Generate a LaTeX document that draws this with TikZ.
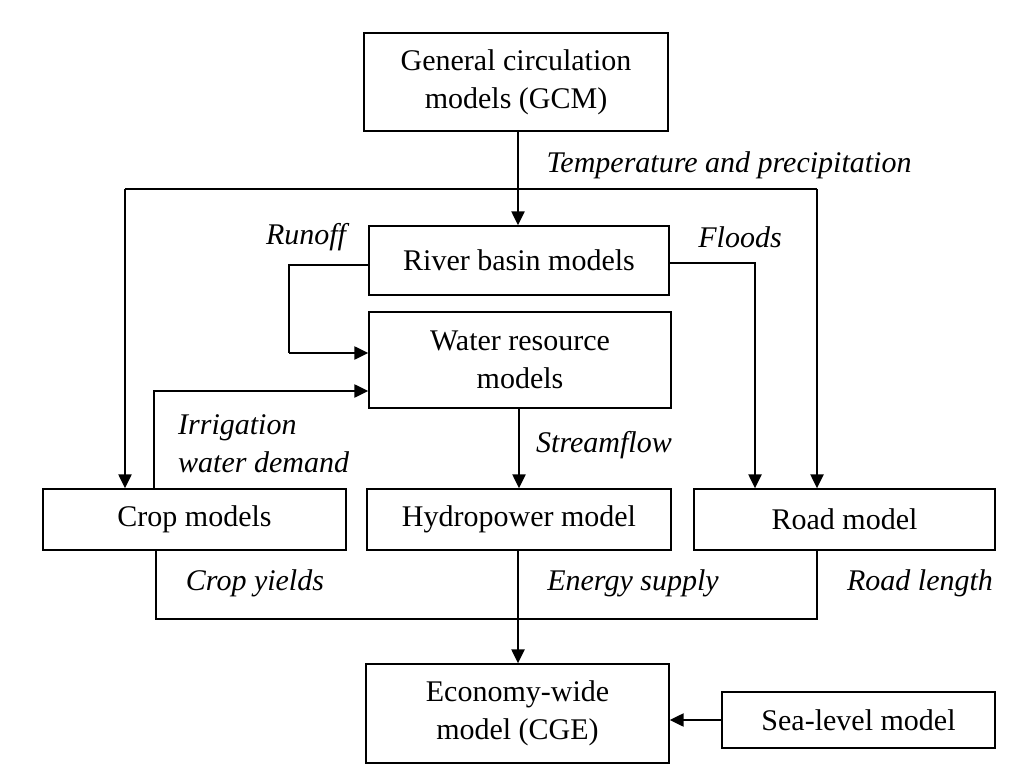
\documentclass[tikz,border=0pt]{standalone}
\usepackage{fontspec}
\setmainfont{Liberation Serif}
\usetikzlibrary{arrows.meta}
\begin{document}
\begin{tikzpicture}[x=1pt,y=-1pt,
  box/.style={draw,line width=1.3pt,align=center,inner sep=0pt},
  lbl/.style={font=\fontsize{30}{38}\selectfont\itshape,inner sep=0pt},
  arr/.style={line width=2.2pt,-{Triangle[length=14pt,width=13pt]}},
  ln/.style={line width=1.3pt},
  every node/.append style={font=\fontsize{30}{38}\selectfont}]
\useasboundingbox (0,0) rectangle (1024,783);
\node[box,minimum width=304,minimum height=98] (gcm) at (516,82) {General circulation\\models (GCM)};
\node[box,minimum width=300,minimum height=69] (river) at (519,260.5) {River basin models};
\node[box,minimum width=302,minimum height=96] (water) at (520,360) {Water resource\\models};
\node[box,minimum width=303,minimum height=61] (crop) at (194.5,519.5) {Crop models};
\node[box,minimum width=304,minimum height=61] (hydro) at (519,519.5) {Hydropower model};
\node[box,minimum width=301,minimum height=61] (road) at (844.5,519.5) {Road model};
\node[box,minimum width=303,minimum height=99] (cge) at (517.5,713.5) {Economy-wide\\model (CGE)};
\node[box,minimum width=273,minimum height=56] (sea) at (858.5,720) {Sea-level model};
\coordinate (tl) at (125,189); \coordinate (tr) at (817,189);
\coordinate (bl) at (156,619); \coordinate (br) at (817,619);
\draw[arr] (gcm.south -| 518,0) -- (river.north -| 518,0);
\draw[ln] (tl) -- (tr);
\draw[arr] (tl) -- (crop.north -| tl);
\draw[arr] (tr) -- (road.north -| tr);
\draw[arr] (river.east |- 0,263) -| (755,0 |- road.north);
\draw[ln] (river.west |- 0,265) -- (289,265) -- (289,353);
\draw[arr] (289,353) -- (water.west |- 0,353);
\draw[arr] (crop.north -| 154,0) |- (water.west |- 0,391);
\draw[arr] (water.south -| 519,0) -- (hydro.north -| 519,0);
\draw[ln] (crop.south -| bl) -- (bl) -- (br) -- (road.south -| br);
\draw[arr] (hydro.south -| 518,0) -- (cge.north -| 518,0);
\draw[arr] (sea.west) -- (cge.east |- sea.west);
\node[lbl] (t1) at (729,165) {Temperature and precipitation};
\node[lbl] (t2) at (306,237) {Runoff};
\node[lbl] (t3) at (740,237) {Floods};
\node[lbl,align=left,anchor=west] (t4) at (178,444) {Irrigation\\water demand};
\node[lbl] (t5) at (604,445) {Streamflow};
\node[lbl] (t6) at (255,583) {Crop yields};
\node[lbl] (t7) at (633,583) {Energy supply};
\node[lbl] (t8) at (920,583) {Road length};
\end{tikzpicture}
\end{document}
